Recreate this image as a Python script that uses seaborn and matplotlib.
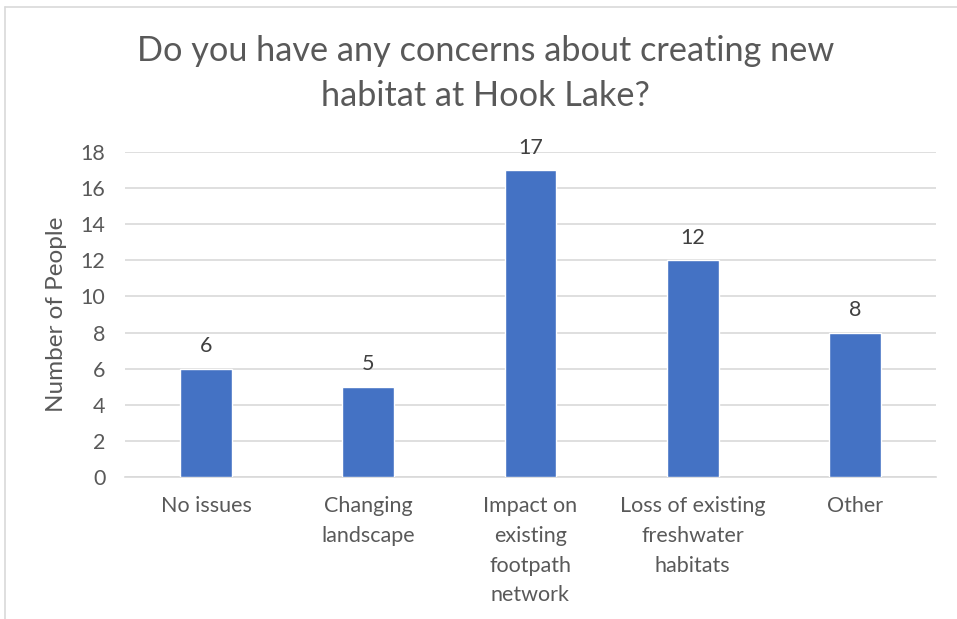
import matplotlib
matplotlib.use("Agg")
import matplotlib.pyplot as plt
import seaborn as sns
import pandas as pd

categories = ["No issues", "Changing\nlandscape", "Impact on\nexisting\nfootpath\nnetwork",
              "Loss of existing\nfreshwater\nhabitats", "Other"]
counts = [6, 5, 17, 12, 8]
y_ticks = [0, 2, 4, 6, 8, 10, 12, 14, 16, 18]

sns.set_theme(style="white")
plt.rcParams["font.family"] = ["Lato", "DejaVu Sans"]

df = pd.DataFrame({"category": categories, "count": counts})

fig = plt.figure(figsize=(9.57, 6.19), dpi=100)
ax = fig.add_axes([0.1306, 0.2294, 0.8474, 0.525])

sns.barplot(data=df, x="category", y="count", color="#4472C4", width=0.32,
            saturation=1, ax=ax, zorder=3)

ax.set_ylim(0, 18)
ax.set_yticks(y_ticks)
ax.yaxis.grid(True, color="#D9D9D9", linewidth=1.2, zorder=0)
ax.set_axisbelow(True)
for side in ["top", "right", "left"]:
    ax.spines[side].set_visible(False)
ax.spines["bottom"].set_color("#D9D9D9")
ax.spines["bottom"].set_linewidth(1.2)
ax.tick_params(axis="both", length=0, labelsize=15.5, colors="#595959")
ax.tick_params(axis="y", pad=14)
ax.tick_params(axis="x", pad=14)
for lbl in ax.get_xticklabels():
    lbl.set_linespacing(1.6)
ax.set_xlabel("")
ax.set_ylabel("Number of People", fontsize=17.5, color="#595959", labelpad=10)

for container in ax.containers:
    ax.bar_label(container, padding=9, fontsize=15.5, color="#404040")

fig.text(0.507, 0.881, "Do you have any concerns about creating new\nhabitat at Hook Lake?",
         ha="center", va="center", fontsize=24.7, color="#595959", linespacing=1.5)

# outer frame of the chart area
fig.add_artist(plt.Line2D([0.0052, 0.0052], [0, 0.989], color="#D9D9D9", lw=1.2,
                          transform=fig.transFigure))
fig.add_artist(plt.Line2D([0.0052, 1.0], [0.989, 0.989], color="#D9D9D9", lw=1.2,
                          transform=fig.transFigure))

fig.savefig("out.png", dpi=100)
